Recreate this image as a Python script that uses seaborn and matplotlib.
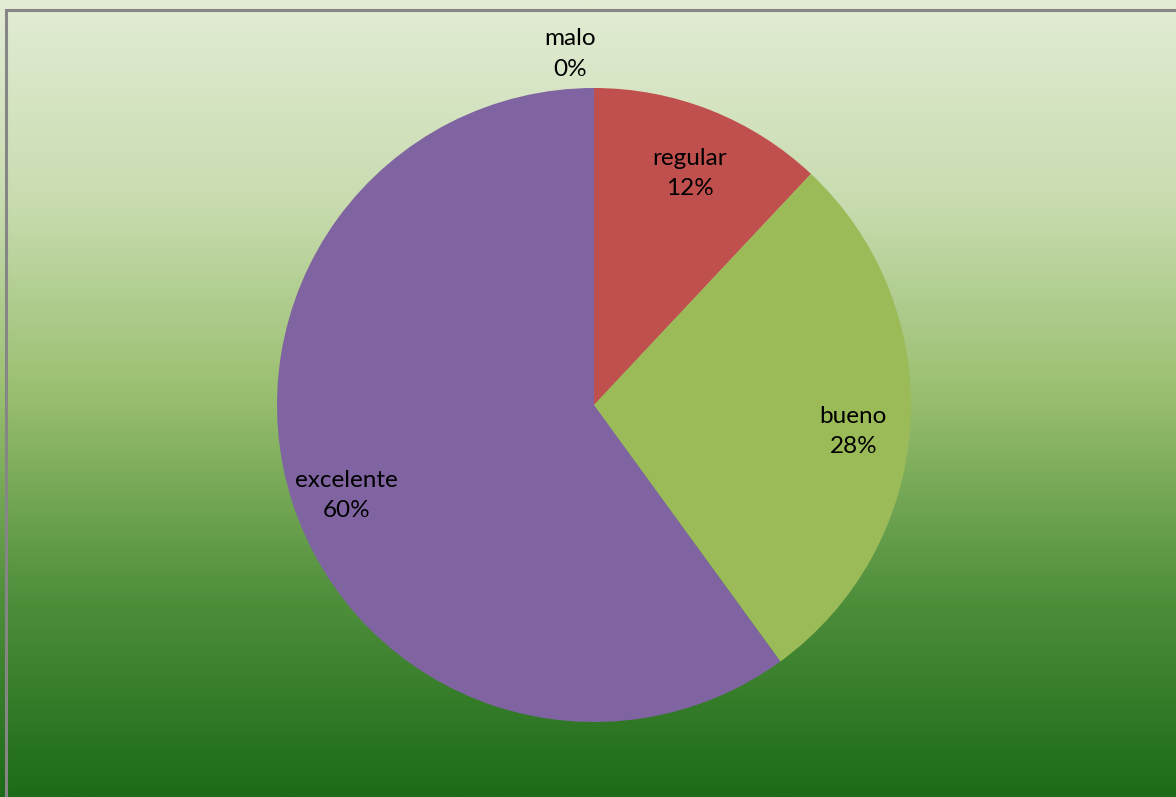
import numpy as np
import matplotlib
matplotlib.use("Agg")
import matplotlib.pyplot as plt
from matplotlib.colors import LinearSegmentedColormap
from matplotlib.patches import Rectangle
import seaborn as sns

categories = ["malo", "regular", "bueno", "excelente"]
values = [0, 12, 28, 60]
labels_pct = ["0%", "12%", "28%", "60%"]
colors = ["#4F81BD", "#C0504D", "#9BBB59", "#8064A2"]

sns.set_theme(style="white")
plt.rcParams['font.family'] = ['Lato', 'DejaVu Sans']

W, H = 1176, 797
fig = plt.figure(figsize=(W / 100, H / 100), dpi=100)

# background gradient
bg = fig.add_axes([0, 0, 1, 1], zorder=0)
grad_cmap = LinearSegmentedColormap.from_list(
    "g", [(0.0, "#e2ecd4"), (0.25, "#c9dcb0"), (0.5, "#98be6e"),
          (0.75, "#4f8f3c"), (1.0, "#1d6b18")])
g = np.linspace(0, 1, 400).reshape(-1, 1)
bg.imshow(g, aspect="auto", cmap=grad_cmap, extent=[0, W, 0, H], origin="upper")
bg.set_xlim(0, W)
bg.set_ylim(0, H)
bg.axis("off")
bg.add_patch(Rectangle((5.5, -10), W + 20, H - 9.5 + 10, fill=False,
                       edgecolor="#868686", linewidth=2.2))

ax = fig.add_axes([0, 0, 1, 1], zorder=1)

cx, cy, r = 594, H - 405, 317
wedges, _ = ax.pie(values, colors=colors, startangle=90, counterclock=False,
                   center=(cx, cy), radius=r, frame=True,
                   wedgeprops=dict(linewidth=0))
# zero-size slice shows only as a thin line
wedges[0].set_edgecolor("#9a8fb0")
wedges[0].set_linewidth(0.8)
ax.set_xlim(0, W)
ax.set_ylim(0, H)
ax.set_aspect("equal")
ax.axis("off")

total = sum(values)
start = 90.0
for cat, v, pct in zip(categories, values, labels_pct):
    span = 360.0 * v / total
    mid = np.deg2rad(start - span / 2)
    if v == 0:
        x, y = cx - 24, cy + r + 34
    else:
        d = 0.82 * r
        x, y = cx + d * np.cos(mid), cy + d * np.sin(mid) - 10
    ax.text(x, y, f"{cat}\n{pct}", ha="center", va="center", fontsize=17.5,
            color="black", linespacing=1.55)
    start -= span

fig.savefig("out.png", dpi=100)
